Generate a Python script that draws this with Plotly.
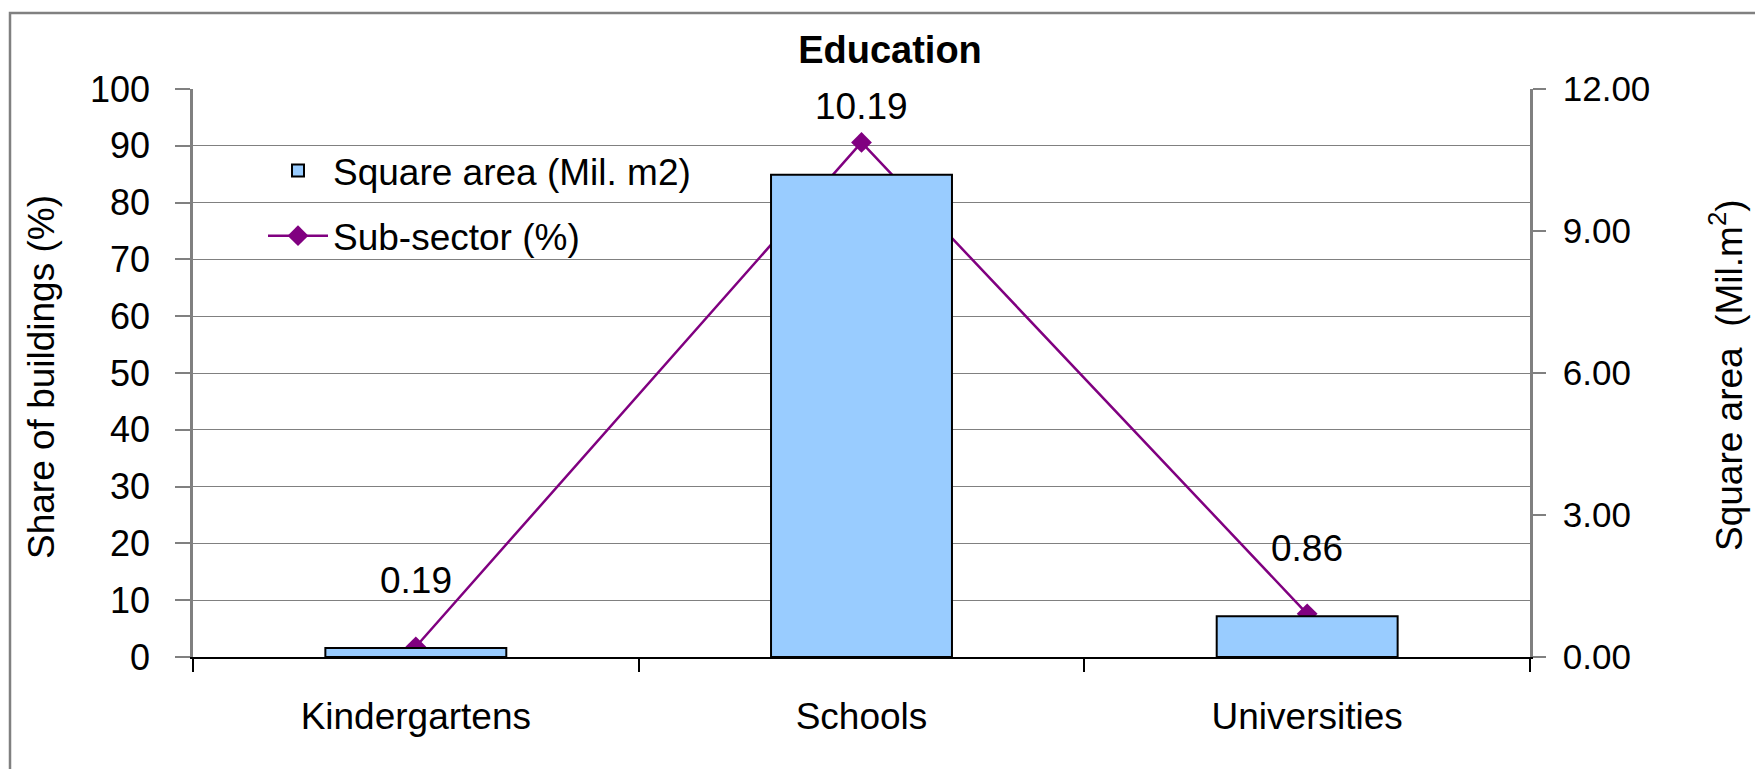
import plotly.graph_objects as go

categories = ["Kindergartens", "Schools", "Universities"]
square_area = [0.19, 10.19, 0.86]          # Mil. m2 (right axis)
sub_sector_pct = [1.8, 90.6, 7.6]           # % (left axis)
left_ticks = list(range(0, 101, 10))
right_ticks = [0, 3, 6, 9, 12]

# page body has an 8px margin -> build the figure 8px smaller and shift
OFF = 8
W, H = 1763 - OFF, 769 - OFF
ML, MT = 193 - OFF, 89 - OFF
MR, MB = 233, 112
PW, PH = W - ML - MR, H - MT - MB

def px2paper_x(px):
    return (px - OFF - ML) / PW

def px2paper_y(py):
    return (H - MB - (py - OFF)) / PH

FONT = "Liberation Sans, Arial, sans-serif"
GRAY = "#808080"

fig = go.Figure()
fig.add_trace(go.Bar(
    x=categories, y=square_area, name="Square area (Mil. m2)",
    marker=dict(color="#99CCFF", line=dict(color="black", width=2)),
    yaxis="y2", legendgroup="a",
))
fig.add_trace(go.Scatter(
    x=categories, y=sub_sector_pct, name="Sub-sector (%)",
    mode="lines+markers", line=dict(color="#800080", width=2.5),
    marker=dict(symbol="diamond", size=16, color="#800080"),
    yaxis="y", legendgroup="b",
))

annotations = []
for c, v in zip(categories, square_area):
    annotations.append(dict(x=c, y=v, xref="x", yref="y2", text=f"{v:.2f}",
                            showarrow=False, yshift=68,
                            font=dict(size=37, color="black", family=FONT)))
annotations.append(dict(x=px2paper_x(41), y=px2paper_y(377), xref="paper", yref="paper",
                        xanchor="center", yanchor="middle",
                        text="Share of buildings (%)", textangle=-90, showarrow=False,
                        font=dict(size=37, color="black", family=FONT)))
annotations.append(dict(x=px2paper_x(1726), y=px2paper_y(375), xref="paper", yref="paper",
                        xanchor="center", yanchor="middle",
                        text="Square area  (Mil.m<sup>2</sup>)", textangle=-90, showarrow=False,
                        font=dict(size=37, color="black", family=FONT)))

shapes = [dict(type="rect", xref="paper", yref="paper",
               x0=px2paper_x(10), x1=px2paper_x(1790),
               y0=px2paper_y(800), y1=px2paper_y(13),
               line=dict(color=GRAY, width=2.5), fillcolor="rgba(0,0,0,0)", layer="below")]

fig.update_layout(
    width=W, height=H, autosize=False,
    margin=dict(l=ML, r=MR, t=MT, b=MB, pad=0),
    paper_bgcolor="white", plot_bgcolor="white",
    font=dict(family=FONT, size=36, color="black"),
    title=dict(text="<b>Education</b>", x=(890 - OFF) / W, xanchor="center",
               y=1 - (50 - OFF) / H, yanchor="middle", yref="container",
               font=dict(size=38, family=FONT, color="black")),
    bargap=0.594,
    showlegend=True,
    legend=dict(x=px2paper_x(263), y=px2paper_y(140), xanchor="left", yanchor="top",
                bgcolor="rgba(0,0,0,0)", font=dict(size=37, family=FONT),
                traceorder="grouped", tracegroupgap=14, itemwidth=60),
    xaxis=dict(type="category", categoryorder="array", categoryarray=categories,
               tickson="boundaries", ticks="outside", ticklen=13, tickcolor="black",
               tickwidth=1.5, showline=True, linecolor="black", linewidth=2,
               showgrid=False, tickfont=dict(size=37), ticklabelstandoff=26),
    yaxis=dict(range=[0, 100], tickvals=left_ticks, ticks="outside", ticklen=15,
               tickcolor=GRAY, tickwidth=1.5, showline=True, linecolor=GRAY, linewidth=2.5,
               showgrid=True, gridcolor=GRAY, gridwidth=1.2, zeroline=False,
               tickfont=dict(size=36), ticklabelstandoff=18),
    yaxis2=dict(range=[0, 12], tickvals=right_ticks, tickformat=".2f", overlaying="y",
                side="right", anchor="x", ticks="outside", ticklen=13, tickcolor=GRAY,
                tickwidth=1.5, showline=True, linecolor=GRAY, linewidth=2.5,
                showgrid=False, zeroline=False, tickfont=dict(size=35), ticklabelstandoff=10),
    yaxis3=dict(range=[0, 12], tickvals=right_ticks, overlaying="y", side="right",
                anchor="x", ticks="inside", ticklen=13, tickcolor=GRAY, tickwidth=1.5,
                showline=False, showgrid=False, zeroline=False, showticklabels=False),
    annotations=annotations,
    shapes=shapes,
)

fig.write_html("out.html")
